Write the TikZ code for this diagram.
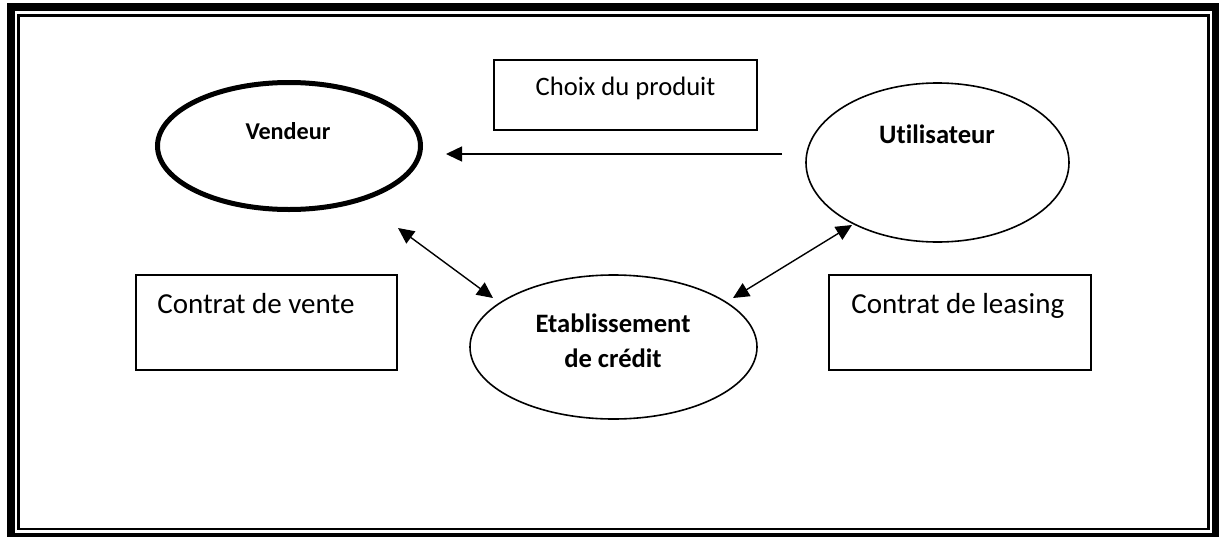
\documentclass[tikz,border=0pt]{standalone}
\usepackage{fontspec}
\setmainfont{Carlito}[Ligatures=NoCommon]
\usetikzlibrary{shapes.geometric,arrows.meta,calc}
\begin{document}
\begin{tikzpicture}[x=1pt,y=-1pt,
  ell/.style={ellipse, draw, line width=1.6pt, inner sep=0pt},
  ellbold/.style={ell, line width=5pt},
  boxn/.style={draw, line width=1.8pt, inner sep=0pt},
  arr/.style={line width=1.4pt, -{Triangle[length=16pt,width=15pt]}},
  darr/.style={line width=1.4pt, {Triangle[length=16pt,width=15pt]}-{Triangle[length=16pt,width=15pt]}},
  boxtxt/.style={inner sep=0pt, font=\fontsize{26.6}{32}\selectfont},
  bigtxt/.style={inner sep=0pt, font=\fontsize{29}{35}\selectfont},
  vdtxt/.style={inner sep=0pt, font=\bfseries\fontsize{24.2}{30}\selectfont},
  eltxt/.style={inner sep=0pt, font=\bfseries\fontsize{26.6}{35}\selectfont},
]
\useasboundingbox (0,0) rectangle (1219,536);

% double frame: thick outer band and thin inner rule
\draw[line width=8pt] (11,7) rectangle (1216,537);
\draw[line width=2.6pt] (18.7,15.3) rectangle (1208.3,528.8);

% actors
\node[ellbold, minimum width=263pt, minimum height=127pt] (vd) at (289,146) {};
\node[vdtxt, anchor=base] (vdlabel) at (288,139) {Vendeur};

\node[ell, minimum width=263pt, minimum height=159pt] (ut) at (937.5,162.5) {};
\node[eltxt, anchor=base] (utlabel) at (937,143) {Utilisateur};

\node[ell, minimum width=287pt, minimum height=144pt] (eb) at (613.5,347) {};
\node[eltxt, anchor=base] (eblabel1) at (613,332) {Etablissement};
\node[eltxt, anchor=base] (eblabel2) at (613,367) {de crédit};

% boxes
\node[boxn, minimum width=263pt, minimum height=70pt] (choix) at (625.5,95) {};
\node[boxtxt, anchor=base] (choixlabel) at (choix.center) {Choix du produit};

\node[boxn, minimum width=261pt, minimum height=95pt] (cv) at (266.5,322.5) {};
\node[bigtxt, anchor=base west] (cvlabel) at ($(cv.north west)+(22,39)$) {Contrat de vente};

\node[boxn, minimum width=262pt, minimum height=95pt] (cl) at (960,322.5) {};
\node[bigtxt, anchor=base west] (cllabel) at ($(cl.north west)+(23,39)$) {Contrat de leasing};

% flows
\draw[arr] ($(ut.center)+(-155.5,-8.5)$) -- ($(vd.center)+(157,8)$);
\draw[darr] ($(vd.center)+(109,82)$) -- ($(eb.center)+(-120.5,-49)$);
\draw[darr] ($(eb.center)+(119.5,-49)$) -- ($(ut.center)+(-85.5,62.5)$);
\end{tikzpicture}
\end{document}
